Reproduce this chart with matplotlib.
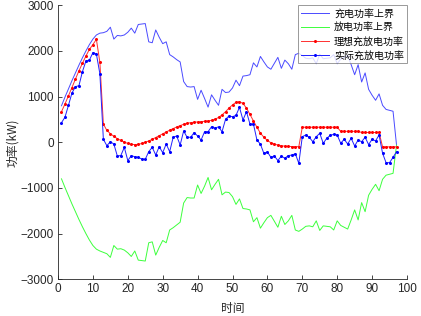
import matplotlib
matplotlib.use("Agg")
import matplotlib.pyplot as plt

plt.rcParams['font.family'] = ['Liberation Sans', 'Noto Sans CJK SC', 'DejaVu Sans']

x = list(range(1, 98))

charge_upper = [
    800, 990, 1170, 1350, 1520, 1690, 1850, 2000, 2140, 2260, 2350, 2390, 2400, 2430, 2520,
    2260, 2340, 2330, 2350, 2410, 2500, 2390, 2580, 2590, 2600, 2200, 2180, 2460, 2300, 2160,
    2200, 1920, 1870, 1810, 1760, 1330, 1220, 1210, 1220, 940, 1140, 960, 770, 1040, 920,
    810, 1160, 1090, 1100, 1190, 1360, 1240, 1450, 1460, 1480, 1740, 1650, 1880, 1760, 1650,
    1600, 1730, 1860, 1620, 1800, 1720, 1600, 1920, 1950, 1900, 1840, 1830, 1850, 1720, 1930,
    1830, 1840, 1850, 1920, 1720, 1820, 1860, 1900, 1700, 1480, 1700, 1320, 1520, 1160, 1030,
    920, 1060, 810, 720, 700, 680, -60,
]

discharge_upper = [
    -800, -990, -1170, -1350, -1520, -1690, -1850, -2000, -2140, -2260, -2340, -2380, -2410, -2440, -2520,
    -2260, -2340, -2330, -2360, -2420, -2500, -2380, -2580, -2590, -2600, -2200, -2180, -2470, -2300, -2150,
    -2200, -1920, -1870, -1810, -1750, -1330, -1210, -1220, -1220, -935, -1120, -960, -770, -1040, -920,
    -810, -1150, -1090, -1100, -1190, -1360, -1240, -1450, -1460, -1480, -1740, -1650, -1880, -1760, -1650,
    -1600, -1730, -1860, -1620, -1800, -1720, -1600, -1920, -1950, -1900, -1840, -1830, -1850, -1720, -1930,
    -1830, -1840, -1850, -1920, -1720, -1820, -1860, -1900, -1700, -1480, -1700, -1320, -1520, -1160, -1030,
    -920, -1060, -810, -720, -700, -680, -60,
]

ideal = [
    670, 840, 1020, 1200, 1385, 1565, 1730, 1890, 2035, 2140, 2255, 1750, 400, 260, 190,
    130, 80, 40, 5, -25, -45, -50, -45, -25, 0, 30, 65, 105, 145, 185,
    225, 265, 300, 335, 365, 395, 415, 430, 440, 445, 452, 460, 468, 480, 505,
    545, 600, 670, 750, 820, 875, 890, 850, 750, 610, 470, 330, 200, 110, 40,
    -10, -40, -60, -75, -85, -90, -93, -95, -96, 330, 330, 330, 330, 330, 330,
    330, 330, 330, 330, 330, 240, 240, 240, 240, 240, 240, 215, 215, 215, 215,
    215, 215, -100, -100, -100, -100, -100,
]

actual = [
    430, 550, 810, 1080, 1218, 1240, 1547, 1780, 1800, 1963, 1934, 1500, 66, -74, 13,
    -37, -300, -290, -110, -400, -293, -315, -330, -365, -373, -205, -110, -278, -96, -227,
    -37, -205, 110, 139, -59, 247, 110, 110, 211, 139, 50, 232, 232, 342, 310,
    340, 232, 503, 576, 560, 590, 766, 488, 670, 400, 400, 50, -40, -245, -210,
    -330, -300, -400, -300, -350, -290, -280, -250, -460, 123, 160, 110, 13, 123, 197,
    -22, 88, 150, 175, 160, -20, 66, -37, 88, -81, 50, 13, 110, -50, 66,
    30, 160, -240, -446, -446, -330, -205,
]

labels = ['充电功率上界', '放电功率上界', '理想充放电功率', '实际充放电功率']
xticks = list(range(0, 101, 10))
yticks = list(range(-3000, 3001, 1000))

fig = plt.figure(figsize=(4.21, 3.16), dpi=100)
ax = fig.add_axes([58 / 421, 1 - 279.3 / 316, (407 - 58) / 421, (279.3 - 5.3) / 316])

ax.plot(x, charge_upper, color='#4a4aff', lw=0.7, label=labels[0])
ax.plot(x, discharge_upper, color='#3cff3c', lw=0.7, label=labels[1])
ax.plot(x, ideal, color='#ff3030', lw=0.7, marker='.', ms=2.4, mfc='red', mec='red', label=labels[2])
ax.plot(x, actual, color='#2020ff', lw=0.7, marker='.', ms=2.4, mfc='blue', mec='blue', label=labels[3])

ax.set_xlim(0, 100)
ax.set_ylim(-3000, 3000)
ax.set_xticks(xticks)
ax.set_yticks(yticks)
ax.tick_params(direction='in', length=3, width=0.6, colors='#262626', labelsize=8.5, pad=3)
for s in ['top', 'right']:
    ax.spines[s].set_visible(False)
for s in ['left', 'bottom']:
    ax.spines[s].set_color('#262626')
    ax.spines[s].set_linewidth(0.6)

cjk = ['Noto Sans CJK SC', 'DejaVu Sans']
ax.set_xlabel('时间', fontsize=8.5, family=cjk, color='#262626', labelpad=5)
ax.set_ylabel('功率(kW)', fontsize=8.5, family=cjk, color='#262626', labelpad=1)

leg = ax.legend(loc='upper right', bbox_to_anchor=(1.0, 1.0), borderaxespad=0,
                prop={'family': cjk, 'size': 7.2}, frameon=True, fancybox=False,
                handlelength=2.8, labelspacing=0.4, borderpad=0.3, handletextpad=0.5)
leg.get_frame().set_edgecolor('#808080')
leg.get_frame().set_linewidth(0.7)

fig.savefig('out.png', dpi=100)
